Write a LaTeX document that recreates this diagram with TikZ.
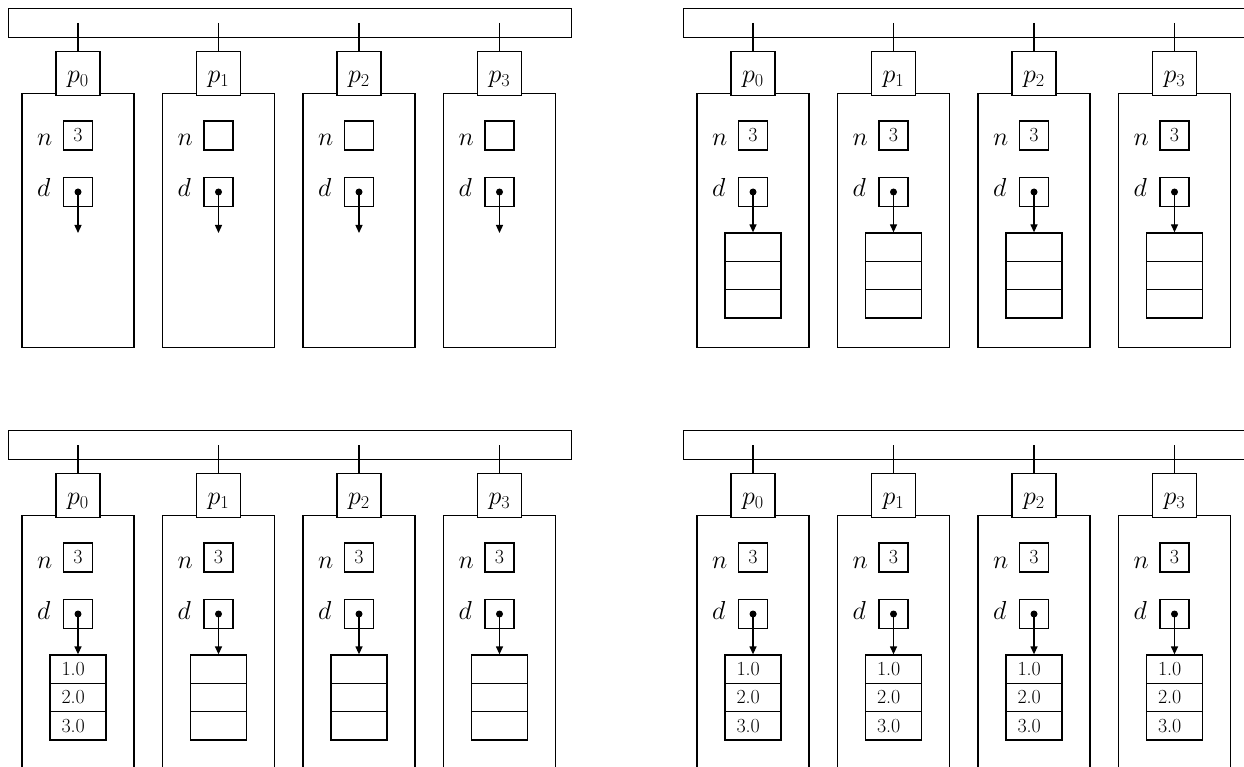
\documentclass[tikz,border=0pt]{standalone}
\usepackage{fix-cm}
\usetikzlibrary{arrows.meta}
\tikzset{
  ln/.style={line width=1.3pt},
  barbox/.style={draw, ln, minimum width=563pt, minimum height=29pt, inner sep=0pt, anchor=north west},
  proc/.style={draw, ln, minimum width=112pt, minimum height=254pt, inner sep=0pt, anchor=north},
  pbox/.style={draw, ln, fill=white, minimum width=44pt, minimum height=44pt, inner sep=0pt, anchor=north,
               text height=31pt, text depth=13pt, font=\fontsize{26}{30}\selectfont},
  vbox/.style={draw, ln, minimum width=29pt, minimum height=29pt, inner sep=0pt, font=\fontsize{20}{24}\selectfont},
  lbl/.style={inner sep=0pt, anchor=base west, font=\fontsize{26}{30}\selectfont},
  cell/.style={draw, ln, minimum width=56pt, minimum height=28.3pt, inner sep=0pt, font=\fontsize{20}{24}\selectfont},
  dotnode/.style={circle, fill=black, inner sep=0pt, minimum size=7pt},
  ptr/.style={ln, -{Triangle[length=8pt,width=7pt]}}
}
\newcommand{\cv}[2]{\ifnum#1=1 \makebox[33pt][l]{#2}\fi}
\begin{document}
\begin{tikzpicture}[x=1pt,y=-1pt]
\useasboundingbox (0,0) rectangle (1244,767);
\clip (0,0) rectangle (1244,767);
\foreach \k/\ox/\oy/\m in {A/0/0/0,B/675/0/1,C/0/422/2,D/675/422/3}{
  \begin{scope}[shift={(\ox,\oy)}]
    \node[barbox] (bar-\k) at (8,8) {};
    \foreach \i/\cx in {0/78,1/218.5,2/359,3/499.5}{
      \pgfmathtruncatemacro\shown{(\m>0 || \i==0) ? 1 : 0}
      \pgfmathtruncatemacro\filled{(\m==3 || (\m==2 && \i==0)) ? 1 : 0}
      \node[proc] (proc-\k-\i) at (\cx,93) {};
      \coordinate (t-\k-\i) at (\cx,23);
      \node[pbox] (p-\k-\i) at (\cx,51) {$p_{\i}$};
      \draw[ln] (t-\k-\i) -- (p-\k-\i.north);
      \node[lbl] (nl-\k-\i) at (\cx-41,146) {$n$};
      \node[vbox] (n-\k-\i) at (\cx,135.5) {\ifnum\shown=1 3\fi};
      \node[lbl] (dl-\k-\i) at (\cx-41,197) {$d$};
      \node[vbox] (d-\k-\i) at (\cx,192) {};
      \node[dotnode] (dot-\k-\i) at (\cx,192) {};
      \ifnum\m=0
        \coordinate (e-\k-\i) at (\cx,233);
        \draw[ptr] (dot-\k-\i.center) -- (e-\k-\i);
      \else
        \node[cell] (a1-\k-\i) at (\cx,247.15) {\cv{\filled}{1.0}};
        \node[cell] (a2-\k-\i) at (\cx,275.45) {\cv{\filled}{2.0}};
        \node[cell] (a3-\k-\i) at (\cx,303.75) {\cv{\filled}{3.0}};
        \draw[ptr] (dot-\k-\i.center) -- (a1-\k-\i.north);
      \fi
    }
  \end{scope}
}
\end{tikzpicture}
\end{document}
